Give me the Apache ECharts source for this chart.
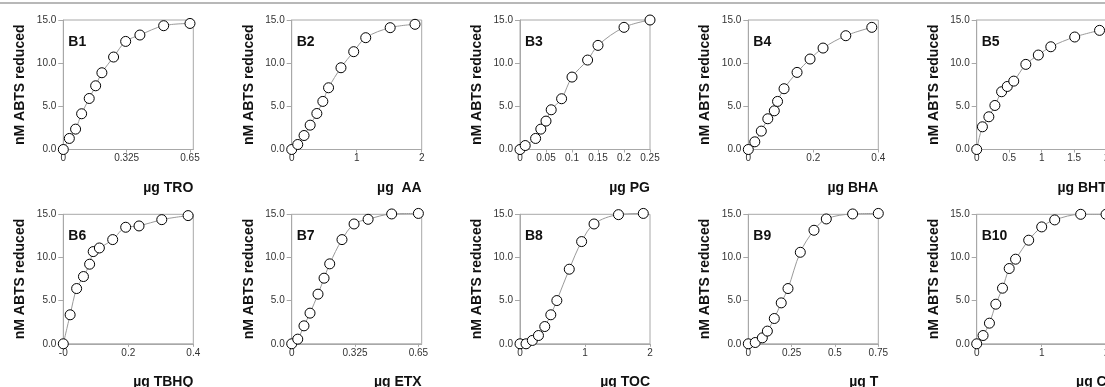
<!DOCTYPE html>
<html>
<head>
<meta charset="utf-8">
<script src="https://cdn.jsdelivr.net/npm/echarts@6/dist/echarts.min.js"></script>
<style>
html,body{margin:0;padding:0;background:#fff;}
#chart{width:1105px;height:387px;}
</style>
</head>
<body>
<div id="chart"></div>
<script>
// ---- data ----
const panelNames = ['B1','B2','B3','B4','B5','B6','B7','B8','B9','B10'];
const xTitles = ['\u00b5g TRO','\u00b5g  AA','\u00b5g PG','\u00b5g BHA','\u00b5g BHT','\u00b5g TBHQ','\u00b5g ETX','\u00b5g TOC','\u00b5g T','\u00b5g C'];
const yTitle = 'nM ABTS reduced';
const yTicks = [0, 5, 10, 15];
const yTickLabels = ['0.0', '5.0', '10.0', '15.0'];

const xMax = [0.667, 2, 0.25, 0.4, 2, 0.4, 0.667, 2, 0.75, 2];
const xTicks = [
  [0, 0.325, 0.65], [0, 1, 2], [0, 0.05, 0.1, 0.15, 0.2, 0.25], [0, 0.2, 0.4], [0, 0.5, 1, 1.5, 2],
  [0, 0.2, 0.4], [0, 0.325, 0.65], [0, 1, 2], [0, 0.25, 0.5, 0.75], [0, 1, 2]
];
const xTickLabels = [
  ['0','0.325','0.65'], ['0','1','2'], ['0','0.05','0.1','0.15','0.2','0.25'], ['0','0.2','0.4'], ['0','0.5','1','1.5','2'],
  ['-0','0.2','0.4'], ['0','0.325','0.65'], ['0','1','2'], ['0','0.25','0.5','0.75'], ['0','1','2']
];

const B1_x = [0,0.031,0.063,0.094,0.133,0.166,0.198,0.258,0.32,0.393,0.515,0.65];
const B1_y = [0,1.28,2.36,4.14,5.91,7.38,8.89,10.71,12.52,13.26,14.34,14.6];
const B2_x = [0,0.093,0.19,0.284,0.387,0.479,0.567,0.758,0.954,1.139,1.515,1.897];
const B2_y = [0,0.58,1.62,2.82,4.17,5.57,7.15,9.47,11.33,12.95,14.11,14.5];
const B3_x = [0,0.01,0.03,0.04,0.05,0.06,0.08,0.1,0.13,0.15,0.2,0.25];
const B3_y = [0,0.46,1.28,2.36,3.29,4.6,5.88,8.39,10.36,12.06,14.15,15.0];
const B4_x = [0,0.02,0.04,0.06,0.08,0.09,0.11,0.15,0.19,0.23,0.3,0.38];
const B4_y = [0,0.89,2.13,3.56,4.48,5.57,7.04,8.93,10.48,11.75,13.18,14.15];
const B5_x = [0,0.088,0.187,0.28,0.383,0.47,0.57,0.756,0.948,1.14,1.508,1.89];
const B5_y = [0,2.63,3.79,5.1,6.69,7.3,7.92,9.86,10.94,11.9,13.03,13.8];
const B6_x = [0,0.021,0.041,0.062,0.081,0.092,0.111,0.152,0.192,0.233,0.303,0.384];
const B6_y = [0,3.36,6.4,7.79,9.22,10.68,11.1,12.07,13.5,13.65,14.38,14.85];
const B7_x = [0,0.031,0.063,0.094,0.135,0.166,0.195,0.258,0.32,0.392,0.513,0.65];
const B7_y = [0,0.54,2.08,3.55,5.75,7.6,9.26,12.07,13.88,14.42,15.04,15.1];
const B8_x = [0,0.093,0.19,0.284,0.381,0.474,0.567,0.758,0.948,1.139,1.515,1.897];
const B8_y = [0,0,0.39,0.96,2.0,3.36,5.01,8.64,11.84,13.88,14.96,15.1];
const B9_x = [0,0.04,0.081,0.11,0.15,0.19,0.229,0.3,0.379,0.45,0.602,0.75];
const B9_y = [0,0.15,0.69,1.47,2.93,4.74,6.4,10.6,13.15,14.46,15.04,15.1];
const B10_x = [0,0.098,0.196,0.294,0.397,0.5,0.598,0.8,1.0,1.2,1.6,1.99];
const B10_y = [0,0.96,2.39,4.59,6.44,8.72,9.8,12.0,13.54,14.35,15.0,15.0];

const allX = [B1_x,B2_x,B3_x,B4_x,B5_x,B6_x,B7_x,B8_x,B9_x,B10_x];
const allY = [B1_y,B2_y,B3_y,B4_y,B5_y,B6_y,B7_y,B8_y,B9_y,B10_y];

// ---- layout ----
const colLeft = [63.3, 291.7, 520, 748.3, 976.7];
const rowTop = [20, 214.3];
const plotW = 130, plotH = 129.5;
const FONT = 'Liberation Sans, Arial, sans-serif';
const frameColor = '#a8a8a8';

const grids = [], xAxes = [], yAxes = [], series = [], graphics = [];
graphics.push({type:'rect', shape:{x:0, y:2, width:1105, height:2}, style:{fill:'#b8b8b8'}, silent:true});

for (let i = 0; i < 10; i++) {
  const r = Math.floor(i / 5), c = i % 5;
  grids.push({left: colLeft[c], top: rowTop[r], width: plotW, height: plotH,
    outerBoundsMode: 'none', containLabel: false,
    show: true, borderColor: frameColor, borderWidth: 1, backgroundColor: 'transparent'});
  const ticks = xTicks[i], labs = xTickLabels[i];
  xAxes.push({
    type: 'value', gridIndex: i, min: 0, max: xMax[i],
    axisLine: {show: true, lineStyle: {color: frameColor, width: 1}},
    axisTick: {show: true, length: 3, lineStyle: {color: frameColor}, customValues: ticks},
    axisLabel: {show: true, fontSize: 10, color: '#333', fontFamily: FONT, margin: 4, customValues: ticks,
      formatter: v => { const k = ticks.findIndex(t => Math.abs(t - v) < 1e-9); return k >= 0 ? labs[k] : ''; }},
    splitLine: {show: false}
  });
  yAxes.push({
    type: 'value', gridIndex: i, min: 0, max: 15, interval: 5,
    axisLine: {show: true, lineStyle: {color: frameColor, width: 1}},
    axisTick: {show: true, length: 5, lineStyle: {color: frameColor}},
    axisLabel: {fontSize: 10, color: '#333', fontFamily: FONT, margin: 7,
      formatter: v => { const k = yTicks.indexOf(v); return k >= 0 ? yTickLabels[k] : ''; }},
    splitLine: {show: false},
    name: yTitle, nameLocation: 'middle', nameGap: 36, nameRotate: 90,
    nameTextStyle: {fontSize: 14, fontWeight: 'bold', color: '#111', fontFamily: FONT}
  });
  series.push({
    type: 'line', xAxisIndex: i, yAxisIndex: i, clip: false,
    data: allX[i].map((x, j) => [x, allY[i][j]]),
    smooth: 0.35, symbol: 'circle', symbolSize: 10, showAllSymbol: true,
    lineStyle: {color: '#9a9a9a', width: 1},
    itemStyle: {color: '#fff', borderColor: '#000', borderWidth: 1},
    z: 3
  });
  graphics.push({type: 'text', x: colLeft[c] + 5, y: rowTop[r] + 22,
    style: {text: panelNames[i], font: 'bold 14px ' + FONT, fill: '#111', textVerticalAlign: 'middle', verticalAlign: 'middle'}, silent: true});
  graphics.push({type: 'text', x: colLeft[c] + plotW, y: rowTop[r] + plotH + 38.5,
    style: {text: xTitles[i], font: 'bold 14px ' + FONT, fill: '#111', align: 'right', textAlign: 'right',
      verticalAlign: 'middle', textVerticalAlign: 'middle'}, silent: true});
}

const chart = echarts.init(document.getElementById('chart'), null, {renderer: 'canvas'});
chart.setOption({
  animation: false,
  backgroundColor: '#fff',
  grid: grids, xAxis: xAxes, yAxis: yAxes, series: series, graphic: graphics
});
</script>
</body>
</html>
